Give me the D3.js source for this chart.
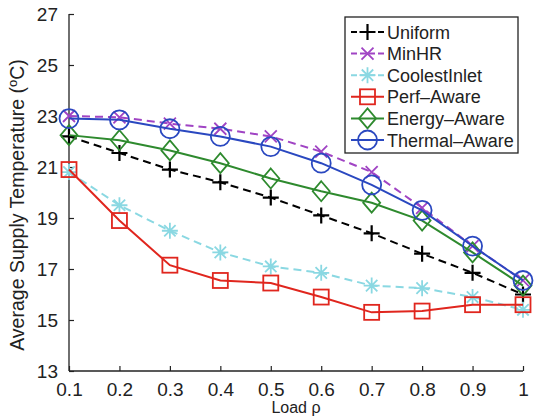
<!DOCTYPE html>
<html><head><meta charset="utf-8">
<script src="https://cdn.jsdelivr.net/npm/d3@7"></script>
<style>body{margin:0;background:#fff;}svg{display:block;font-family:"Liberation Sans",Arial,sans-serif;}</style>
</head><body>
<script>
const loads = [0.1,0.2,0.3,0.4,0.5,0.6,0.7,0.8,0.9,1.0];
const xTicks = [0.1,0.2,0.3,0.4,0.5,0.6,0.7,0.8,0.9,1];
const yTicks = [13,15,17,19,21,23,25,27];
const uniform      = [22.2,21.55,20.9,20.4,19.8,19.1,18.4,17.6,16.85,16.0];
const minHR        = [23.0,22.95,22.7,22.5,22.2,21.6,20.8,19.4,17.9,16.55];
const coolestInlet = [20.8,19.5,18.5,17.65,17.1,16.85,16.35,16.25,15.9,15.4];
const perfAware    = [20.9,18.9,17.15,16.55,16.45,15.9,15.3,15.35,15.6,15.6];
const energyAware  = [22.25,22.05,21.65,21.15,20.55,20.05,19.6,18.9,17.65,16.35];
const thermalAware = [22.9,22.85,22.5,22.2,21.8,21.15,20.3,19.3,17.9,16.55];
const seriesNames  = ["Uniform","MinHR","CoolestInlet","Perf\u2013Aware","Energy\u2013Aware","Thermal\u2013Aware"];

const series = [
  {name:seriesNames[0], values:uniform, color:"#000000", dash:"8,5", marker:"plus"},
  {name:seriesNames[1], values:minHR, color:"#a044c4", dash:"8,5", marker:"x"},
  {name:seriesNames[2], values:coolestInlet, color:"#8ad8e2", dash:"8,5", marker:"star"},
  {name:seriesNames[3], values:perfAware, color:"#e0261e", dash:null, marker:"square"},
  {name:seriesNames[4], values:energyAware, color:"#2e8a2e", dash:null, marker:"diamond"},
  {name:seriesNames[5], values:thermalAware, color:"#2a48c0", dash:null, marker:"circle"}
];

const W=536,H=417;
const svg=d3.select("body").append("svg").attr("width",W).attr("height",H);
const x=d3.scaleLinear().domain([0.1,1]).range([69,523]);
const y=d3.scaleLinear().domain([13,27]).range([371,14]);

// axes
const xAxis=d3.axisBottom(x).tickValues(xTicks).tickSize(-5).tickPadding(12).tickFormat(d=>d===1?"1":d3.format(".1f")(d));
const gx=svg.append("g").attr("transform","translate(0,371)").call(xAxis);
const yAxis=d3.axisLeft(y).tickValues(yTicks).tickSize(-5).tickPadding(11);
const gy=svg.append("g").attr("transform","translate(69,0)").call(yAxis);
[gx,gy].forEach(g=>{
  g.select(".domain").attr("stroke","#222").attr("stroke-width",1.3);
  g.selectAll(".tick line").attr("stroke","#222").attr("stroke-width",1.2);
  g.selectAll(".tick text").attr("fill","#222").style("font-size","19px").style("font-family","'Liberation Sans',Arial,sans-serif");
});
gx.select(".domain").attr("d","M69,0H523");
gy.select(".domain").attr("d","M0,14V371");

// titles
svg.append("text").attr("x",296).attr("y",413).attr("text-anchor","middle").attr("fill","#222")
  .style("font-size","16px").text("Load \u03c1");
const yt=svg.append("text").attr("transform","translate(24,205) rotate(-90)").attr("text-anchor","middle")
  .attr("fill","#222").style("font-size","19.5px");
yt.append("tspan").text("Average Supply Temperature (");
yt.append("tspan").attr("dy",-7).style("font-size","13px").text("o");
yt.append("tspan").attr("dy",7).text("C)");

function drawMarker(g,type,cx,cy,color){
  const s=g.append("g").attr("transform",`translate(${cx},${cy})`).attr("fill","none").attr("stroke",color).attr("stroke-width",1.8);
  if(type==="plus"){s.append("path").attr("d","M-8,0H8M0,-8V8").attr("stroke-width",2.2);}
  else if(type==="x"){s.append("path").attr("d","M-6,-6L6,6M-6,6L6,-6");}
  else if(type==="star"){s.append("path").attr("d","M-8,0H8M0,-8V8M-5.7,-5.7L5.7,5.7M-5.7,5.7L5.7,-5.7");}
  else if(type==="square"){s.append("rect").attr("x",-7.5).attr("y",-7.5).attr("width",15).attr("height",15);}
  else if(type==="diamond"){s.append("path").attr("d","M0,-10L8.5,0L0,10L-8.5,0Z");}
  else if(type==="circle"){s.append("circle").attr("r",9.5);}
}

const line=d3.line().x((d,i)=>x(loads[i])).y(d=>y(d));
series.forEach(sr=>{
  const g=svg.append("g");
  g.append("path").attr("d",line(sr.values)).attr("fill","none").attr("stroke",sr.color)
    .attr("stroke-width",2).attr("stroke-dasharray",sr.dash);
  sr.values.forEach((v,i)=>drawMarker(g,sr.marker,x(loads[i]),y(v),sr.color));
});

// legend
const lg=svg.append("g");
lg.append("rect").attr("x",345).attr("y",17).attr("width",173).attr("height",136).attr("fill","#fff").attr("stroke","#222").attr("stroke-width",1.3);
series.forEach((sr,i)=>{
  const cy=32+i*21.6;
  lg.append("line").attr("x1",351).attr("x2",384).attr("y1",cy).attr("y2",cy).attr("stroke",sr.color)
    .attr("stroke-width",2).attr("stroke-dasharray",sr.dash?"6,3":null);
  drawMarker(lg,sr.marker,367.5,cy,sr.color);
  lg.append("text").attr("x",387).attr("y",cy+6.5).attr("fill","#222").style("font-size","18px").text(sr.name);
});
</script>
</body></html>
